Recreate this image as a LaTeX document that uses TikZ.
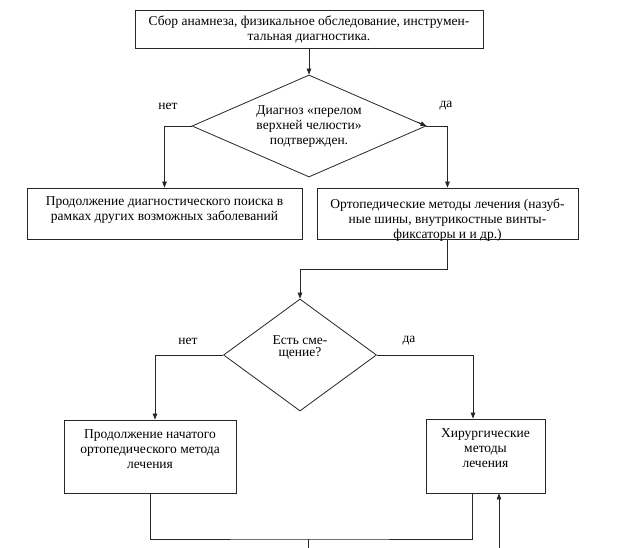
\documentclass[tikz,border=0pt]{standalone}
\usepackage{fontspec}
\setmainfont{Liberation Serif}
\usetikzlibrary{arrows.meta,shapes.geometric,calc}
\newcommand\bxt[4]{\parbox[c][#2][t]{#1}{\centering\vspace*{#3}#4}}
\tikzset{
  box/.style={draw=black!85, line width=0.8pt, inner sep=0pt, align=center},
  dia/.style={draw=black!85, line width=0.8pt, diamond, inner sep=0pt},
  lbl/.style={inner sep=0pt},
  arr/.style={-{Triangle[width=4.5pt,length=6pt]}},
  ln/.style={draw=black!85, line width=0.8pt},
  every node/.style={font=\fontsize{13.5}{15}\selectfont}
}
\begin{document}
\begin{tikzpicture}[x=1pt,y=-1pt]
\useasboundingbox (0,0) rectangle (622,548);
\node[box] (top) at (309,29)
  {\bxt{348pt}{38pt}{5.5pt}{Сбор анамнеза, физикальное обследование, инструмен-\\тальная диагностика.}};
\node[dia, minimum width=234pt, minimum height=102pt] (d1) at (309,126) {};
\node[lbl, align=center] (d1t) at (309,127) {Диагноз «перелом\\верхней челюсти»\\подтвержден.};
\node[lbl] (n1) at (168,106) {нет};
\node[lbl] (y1) at (446,106) {да};
\node[box] (b2) at (164.5,213.5) {\bxt{275pt}{51pt}{8.5pt}{Продолжение диагностического поиска в\\рамках других возможных заболеваний}};
\node[box] (b3) at (447.5,213.5) {\bxt{261pt}{51pt}{10.5pt}{Ортопедические методы лечения (назуб-\\ные шины, внутрикостные винты-\\фиксаторы и и др.)}};
\node[dia, minimum width=153pt, minimum height=112pt] (d2) at (300,355) {};
\node[lbl, align=center, font=\fontsize{13.5}{12}\selectfont] (d2t) at (300,347) {Есть сме-\\щение?};
\node[lbl] (n2) at (188,341) {нет};
\node[lbl] (y2) at (409,341) {да};
\node[box] (b4) at (150,456.5) {\bxt{172pt}{73pt}{10pt}{Продолжение начатого\\ортопедического метода\\лечения}};
\node[box] (b5) at (485.5,456) {\bxt{119pt}{74pt}{10pt}{Хирургические\\методы\\лечения}};
\coordinate (join) at (308,539);
\coordinate (out) at (308,548);
\coordinate (in) at (499,548);
\coordinate (b5a) at ($(b5.north)+(-12.5,0)$);
\coordinate (b5b) at ($(b5.south)+(-13.5,0)$);
\coordinate (b5c) at ($(b5.south)+(13.5,0)$);
\coordinate (b4a) at ($(b4.north)+(5,0)$);
\draw[ln,arr] (top.south) -- (d1.north);
\draw[ln,arr] (d1.west) -| (b2.north);
\draw[ln,arr] (d1.east) -| (b3.north);
\draw[ln,arr] ($(d1.east)+(-9,-4)$) -- (d1.east);
\draw[ln,arr] (b3.south) -- ++(0,30) -| (d2.north);
\draw[ln,arr] (d2.west) -| (b4a);
\draw[ln,arr] (d2.east) -| (b5a);
\draw[ln] (b4.south) |- (join) -| (b5b);
\draw[ln] (join) -- (out);
\draw[ln,arr] (in) -- (b5c);
\end{tikzpicture}
\end{document}
